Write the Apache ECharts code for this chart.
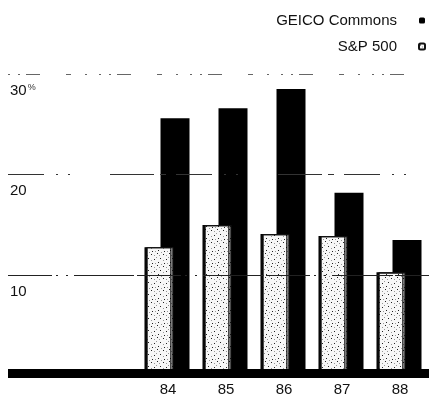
<!DOCTYPE html>
<html>
<head>
<meta charset="utf-8">
<script src="https://cdn.jsdelivr.net/npm/echarts@6/dist/echarts.min.js"></script>
<style>
  html, body { margin: 0; padding: 0; background: #fff; }
  #chart { width: 429px; height: 398px; }
</style>
</head>
<body>
<div id="chart"></div>
<script>
// Annual returns, GEICO common stock vs. the S&P 500 (percent)
const years = ['84', '85', '86', '87', '88'];
const geicoReturns = [25.6, 26.6, 28.5, 18.2, 13.5];
const sp500Returns = [12.8, 15.0, 14.1, 13.9, 10.3];
const yTicks = [10, 20, 30];

const FONT = "'Liberation Sans', Arial, sans-serif";

// Stippled fill for the S&P bars: white paper with sparse dark specks
function stipple() {
  const c = document.createElement('canvas');
  c.width = 12; c.height = 12;
  const g = c.getContext('2d');
  g.fillStyle = '#f7f7f7';
  g.fillRect(0, 0, 12, 12);
  g.fillStyle = '#222';
  [[1, 1], [7, 2], [4, 6], [10, 7], [2, 10], [8, 11]].forEach(([x, y]) => g.fillRect(x, y, 1, 1));
  g.fillStyle = '#999';
  [[5, 0], [10, 3], [0, 5], [7, 8], [3, 3], [11, 11]].forEach(([x, y]) => g.fillRect(x, y, 1, 1));
  return { image: c, repeat: 'repeat' };
}

// Hand-ruled gridline styles, one per tick
const gridDash = {
  10: { type: [44, 4, 2, 8, 2, 6, 60, 3], width: 1, color: '#222' },
  20: { type: [36, 12, 2, 10, 2, 40, 44, 6, 6, 10], width: 1, color: '#333' },
  30: { type: [2, 8, 2, 6, 14, 26, 5, 14, 2, 12], width: 1, color: '#666' }
};

const chart = echarts.init(document.getElementById('chart'), null, { renderer: 'canvas' });

chart.setOption({
  animation: false,
  backgroundColor: '#fff',
  textStyle: { fontFamily: FONT, color: '#111' },
  legend: {
    data: ['GEICO Commons', 'S&P 500'],
    orient: 'vertical',
    align: 'right',
    right: 3,
    top: 13,
    padding: 0,
    itemWidth: 6,
    itemHeight: 6,
    itemGap: 11,
    textStyle: { fontFamily: FONT, fontSize: 15, color: '#111', padding: [0, 17, 0, 0] }
  },
  grid: [
    { left: 8, right: 0, top: 74, bottom: 22 },
    { left: 139, right: -10, top: 74, bottom: 22 }
  ],
  xAxis: [
    {
      gridIndex: 0, type: 'value', min: 0, max: 1, offset: -3, z: 6,
      axisLine: { show: true, lineStyle: { color: '#000', width: 9, cap: 'butt' } },
      axisTick: { show: false }, axisLabel: { show: false }, splitLine: { show: false }
    },
    {
      gridIndex: 1, type: 'category', data: years,
      axisLine: { show: false }, axisTick: { show: false },
      axisLabel: { fontFamily: FONT, fontSize: 15, color: '#111', margin: 6 }
    }
  ],
  yAxis: [
    {
      gridIndex: 0, type: 'value', min: 0, max: 30, interval: 10,
      axisLine: { show: false }, axisTick: { show: false }, splitLine: { show: false },
      axisLabel: {
        inside: true, margin: 2, align: 'left', verticalAlign: 'top', padding: [9, 0, 0, 0],
        fontFamily: FONT, fontSize: 15, color: '#111',
        formatter: v => (v === 30 ? '{n|30}{p|%}' : (yTicks.includes(v) ? String(v) : '')),
        rich: {
          n: { fontFamily: FONT, fontSize: 15, color: '#111' },
          p: { fontFamily: FONT, fontSize: 9, color: '#333', verticalAlign: 'top', padding: [0, 0, 4, 1] }
        }
      }
    },
    {
      gridIndex: 1, type: 'value', min: 0, max: 30, show: false
    }
  ],
  series: [
    {
      name: 'S&P 500', type: 'bar', xAxisIndex: 1, yAxisIndex: 1,
      data: sp500Returns, barWidth: 27, barGap: '-48.1%', z: 3,
      itemStyle: {
        color: stipple(), borderColor: '#111', borderWidth: 1.2,
        shadowColor: '#000', shadowOffsetX: -2, shadowOffsetY: 0, shadowBlur: 0
      }
    },
    {
      name: 'GEICO Commons', type: 'bar', xAxisIndex: 1, yAxisIndex: 1,
      data: geicoReturns, barWidth: 29, barGap: '-48.1%', z: 2,
      itemStyle: { color: '#000' }
    },
    {
      name: 'rules', type: 'line', xAxisIndex: 0, yAxisIndex: 0, data: [], z: 5,
      markLine: {
        silent: true, symbol: 'none', z: 5,
        label: { show: false },
        data: yTicks.map(v => ({ yAxis: v, lineStyle: gridDash[v] }))
      }
    }
  ]
});
</script>
</body>
</html>
